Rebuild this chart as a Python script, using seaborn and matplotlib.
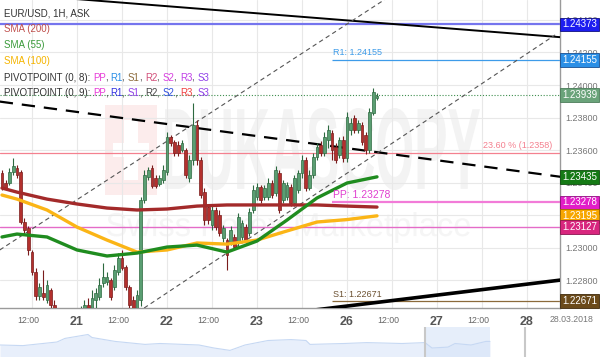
import matplotlib
matplotlib.use("Agg")
import matplotlib.pyplot as plt
import seaborn as sns
import pandas as pd
import numpy as np
from matplotlib.textpath import TextPath
from matplotlib.patches import PathPatch, Rectangle
from matplotlib.font_manager import FontProperties
import matplotlib.transforms as mtrans

# ---------------- data ----------------
hours = list(range(4, 105))  # hour index from 20.03 00:00 (weekend removed)
opens = [1.23458, 1.23397, 1.23397, 1.23465, 1.23489, 1.23465, 1.23157, 1.23120, 1.22972, 1.22849,
         1.22701, 1.22720, 1.22677, 1.22738, 1.22646, 1.22554, 1.22492, 1.22517, 1.22480, 1.22523,
         1.22541, 1.22566, 1.22603, 1.22646, 1.22628, 1.22677, 1.22695, 1.22781, 1.22788, 1.22800,
         1.22757, 1.22849, 1.22935, 1.22880, 1.22757, 1.22677, 1.22615, 1.22677, 1.23292, 1.23434,
         1.23489, 1.23428, 1.23391, 1.23415, 1.23465, 1.23680, 1.23649, 1.23631, 1.23600, 1.23600,
         1.23428, 1.23538, 1.23754, 1.23538, 1.23341, 1.23249, 1.23138, 1.23231, 1.23200, 1.23058,
         1.23046, 1.23034, 1.23065, 1.23028, 1.23065, 1.23126, 1.23089, 1.23231, 1.23311, 1.23372,
         1.23311, 1.23311, 1.23397, 1.23335, 1.23458, 1.23292, 1.23311, 1.23372, 1.23274, 1.23354,
         1.23458, 1.23538, 1.23366, 1.23446, 1.23557, 1.23631, 1.23581, 1.23661, 1.23705, 1.23618,
         1.23569, 1.23661, 1.23551, 1.23723, 1.23797, 1.23723, 1.23754, 1.23692, 1.23600, 1.23828,
         1.23920]
highs = [1.23477, 1.23415, 1.23489, 1.23551, 1.23508, 1.23477, 1.23181, 1.23132, 1.22985, 1.22874,
         1.22781, 1.22861, 1.22800, 1.22751, 1.22677, 1.22578, 1.22541, 1.22554, 1.22541, 1.22566,
         1.22591, 1.22640, 1.22677, 1.22689, 1.22738, 1.22751, 1.22812, 1.22905, 1.22849, 1.22812,
         1.22892, 1.22966, 1.22985, 1.22892, 1.22769, 1.22701, 1.22738, 1.23311, 1.23477, 1.23495,
         1.23508, 1.23446, 1.23446, 1.23508, 1.23711, 1.23692, 1.23661, 1.23655, 1.23661, 1.23612,
         1.23569, 1.23889, 1.23785, 1.23557, 1.23366, 1.23268, 1.23255, 1.23249, 1.23231, 1.23138,
         1.23058, 1.23132, 1.23083, 1.23212, 1.23169, 1.23145, 1.23243, 1.23385, 1.23397, 1.23385,
         1.23385, 1.23428, 1.23415, 1.23501, 1.23477, 1.23415, 1.23403, 1.23391, 1.23446, 1.23477,
         1.23569, 1.23557, 1.23477, 1.23581, 1.23643, 1.23655, 1.23711, 1.23754, 1.23723, 1.23643,
         1.23680, 1.23686, 1.23834, 1.23797, 1.23815, 1.23785, 1.23772, 1.23711, 1.23858, 1.23981,
         1.23951]
lows = [1.23354, 1.23354, 1.23385, 1.23446, 1.23428, 1.23145, 1.23083, 1.22954, 1.22831, 1.22677,
        1.22677, 1.22677, 1.22658, 1.22615, 1.22523, 1.22455, 1.22468, 1.22443, 1.22455, 1.22492,
        1.22517, 1.22541, 1.22578, 1.22603, 1.22603, 1.22615, 1.22677, 1.22757, 1.22769, 1.22677,
        1.22738, 1.22831, 1.22861, 1.22738, 1.22628, 1.22591, 1.22591, 1.22640, 1.23274, 1.23415,
        1.23366, 1.23366, 1.23378, 1.23397, 1.23446, 1.23625, 1.23563, 1.23563, 1.23588, 1.23428,
        1.23403, 1.23508, 1.23508, 1.23305, 1.23138, 1.23145, 1.23108, 1.23108, 1.23071, 1.23034,
        1.22861, 1.23015, 1.22985, 1.23009, 1.23046, 1.23028, 1.23071, 1.23212, 1.23292, 1.23274,
        1.23292, 1.23292, 1.23305, 1.23317, 1.23212, 1.23274, 1.23292, 1.23255, 1.23255, 1.23335,
        1.23428, 1.23348, 1.23354, 1.23428, 1.23538, 1.23563, 1.23563, 1.23612, 1.23538, 1.23520,
        1.23551, 1.23526, 1.23526, 1.23692, 1.23705, 1.23705, 1.23631, 1.23575, 1.23581, 1.23815,
        1.23908]
closes = [1.23372, 1.23366, 1.23465, 1.23501, 1.23446, 1.23157, 1.23108, 1.22985, 1.22849, 1.22701,
          1.22757, 1.22695, 1.22769, 1.22646, 1.22554, 1.22492, 1.22517, 1.22480, 1.22523, 1.22541,
          1.22566, 1.22603, 1.22646, 1.22628, 1.22689, 1.22720, 1.22769, 1.22818, 1.22818, 1.22695,
          1.22861, 1.22935, 1.22874, 1.22757, 1.22646, 1.22615, 1.22708, 1.23292, 1.23446, 1.23477,
          1.23378, 1.23378, 1.23428, 1.23477, 1.23680, 1.23643, 1.23581, 1.23581, 1.23643, 1.23446,
          1.23538, 1.23754, 1.23538, 1.23323, 1.23169, 1.23169, 1.23231, 1.23126, 1.23089, 1.23120,
          1.22954, 1.23108, 1.23003, 1.23188, 1.23151, 1.23046, 1.23218, 1.23354, 1.23372, 1.23292,
          1.23366, 1.23397, 1.23323, 1.23477, 1.23231, 1.23397, 1.23385, 1.23274, 1.23428, 1.23458,
          1.23538, 1.23366, 1.23446, 1.23557, 1.23618, 1.23581, 1.23680, 1.23723, 1.23600, 1.23538,
          1.23661, 1.23551, 1.23803, 1.23766, 1.23723, 1.23766, 1.23649, 1.23600, 1.23834, 1.23957,
          1.23932]

sma_hours = [4, 8, 16, 24, 32, 40, 48, 56, 64, 72, 80, 88, 96, 104]
sma200 = [1.23366, 1.23341, 1.23298, 1.23268, 1.23243, 1.23231, 1.23237, 1.23255, 1.23262, 1.23262,
          1.23262, 1.23262, 1.23255, 1.23249]
sma100 = [1.23323, 1.23298, 1.23231, 1.23126, 1.23046, 1.22972, 1.22985, 1.23028, 1.23021, 1.23046,
          1.23102, 1.23157, 1.23172, 1.23195]
sma55 = [1.23065, 1.23083, 1.23065, 1.22985, 1.22948, 1.22966, 1.23003, 1.23015, 1.22972, 1.23040,
         1.23169, 1.23305, 1.23397, 1.23435]

# trend / channel lines (hour, price anchors)
top_line_h, top_line_p = [3.4, 153.0], [1.24566, 1.24294]
dash_line_h, dash_line_p = [3.4, 153.0], [1.23898, 1.23435]
low_thick_h, low_thick_p = [80.0, 153.0], [1.22595, 1.22800]
chan_up_h, chan_up_p = [3.4, 115.0], [1.22985, 1.24660]
chan_lo_h, chan_lo_p = [35.0, 151.5], [1.22522, 1.24308]

fib_level = 1.2358
level_blue = 1.24373
last_price = 1.23939
level_s = 1.23127
pivot_start = 92
R1, PP, S1 = 1.24155, 1.23278, 1.22671

tick_pos = [12, 24, 36, 48, 60, 72, 84, 96, 108, 120, 132, 144]
tick_lab = ['12:00', '21', '12:00', '22', '12:00', '23', '12:00', '26', '12:00', '27', '12:00', '28']
price_ticks = [1.228, 1.230, 1.232, 1.234, 1.236, 1.238, 1.240, 1.242, 1.244]

nav_x = [0, 23, 57, 65, 88, 92, 115, 145, 160, 199, 214, 230, 245, 268, 291, 306, 310, 344, 367,
         402, 425, 432, 448, 455, 471, 486, 490]
nav_v = [0.40, 0.38, 0.50, 0.62, 0.75, 0.65, 0.52, 0.42, 0.45, 0.40, 0.30, 0.22, 0.40, 0.55, 0.58,
         0.55, 0.42, 0.45, 0.48, 0.45, 0.48, 0.30, 0.33, 0.45, 0.40, 0.52, 0.52]

# ---------------- figure ----------------
W, H = 600, 357
sns.set_theme(style="white")
plt.rcParams['font.family'] = ['Liberation Sans', 'DejaVu Sans']

fig = plt.figure(figsize=(W / 100, H / 100), dpi=100)
fig.patch.set_facecolor('white')
ax = fig.add_axes([0, 1 - 308 / H, 560 / W, 308 / H])
ax.set_xlim(3.47, 152.8)
ax.set_ylim(1.22628, 1.24523)

# watermark
def path_patch(text, box, color, weight='bold'):
    fp = FontProperties(family='Liberation Sans', weight=weight)
    tp = TextPath((0, 0), text, size=1, prop=fp)
    ext = tp.get_extents()
    x0, y0, x1, y1 = box  # pixel box (left, top, right, bottom) in axes pixels
    fx0, fx1 = x0 / 560, x1 / 560
    fy0, fy1 = 1 - y1 / 308, 1 - y0 / 308
    tr = (mtrans.Affine2D().translate(-ext.x0, -ext.y0)
          .scale((fx1 - fx0) / ext.width, (fy1 - fy0) / ext.height)
          .translate(fx0, fy0) + ax.transAxes)
    ax.add_patch(PathPatch(tp, transform=tr, fc=color, ec='none', zorder=0.3))

ax.add_patch(Rectangle((105 / 560, 1 - 195 / 308), 52 / 560, 90 / 308, transform=ax.transAxes,
                       fc='#fcecec', ec='none', zorder=0.3))
ax.add_patch(Rectangle((124 / 560, 1 - 180 / 308), 14 / 560, 60 / 308, transform=ax.transAxes,
                       fc='white', ec='none', zorder=0.31))
ax.add_patch(Rectangle((113 / 560, 1 - 157 / 308), 36 / 560, 14 / 308, transform=ax.transAxes,
                       fc='white', ec='none', zorder=0.31))
path_patch('DUKASCOPY', (165, 108, 480, 190), '#f3f3f3')
path_patch('Swiss Forex Marketplace', (107, 212, 470, 243), '#f5f5f5', weight='normal')

# grid
ax.set_xticks(tick_pos)
ax.set_yticks(price_ticks)
ax.grid(True, color='#e8e8e8', lw=0.8, zorder=0.2)
ax.set_axisbelow(True)

# horizontal levels
ax.axhline(level_blue, color='#7575ee', lw=1.6, zorder=1)
ax.axhline(last_price, color='#3f8f4f', lw=0.8, ls=(0, (1, 1.6)), zorder=1)
ax.axhline(fib_level, color='#f4808f', lw=0.9, zorder=1)
ax.axhline(level_s, color='#e46cc8', lw=1.0, zorder=1)
ax.hlines(R1, pivot_start, 152.8, color='#3d9be9', lw=0.9, zorder=1)
ax.hlines(PP, pivot_start, 152.8, color='#f27bd8', lw=1.6, zorder=1)
ax.hlines(S1, pivot_start, 152.8, color='#8b6a3a', lw=0.9, zorder=1)

# trend lines
ax.plot(top_line_h, top_line_p, color='black', lw=1.4, zorder=3)
ax.plot(dash_line_h, dash_line_p, color='black', lw=1.6, ls=(0, (6, 4)), zorder=3)
ax.plot(low_thick_h, low_thick_p, color='black', lw=2.6, zorder=3)
ax.plot(chan_up_h, chan_up_p, color='#555555', lw=0.8, ls=(0, (4, 3)), zorder=3)
ax.plot(chan_lo_h, chan_lo_p, color='#555555', lw=0.8, ls=(0, (4, 3)), zorder=3)

# candles
df = pd.DataFrame({'hour': hours, 'open': opens, 'high': highs, 'low': lows, 'close': closes})
up = df['close'] >= df['open']
body_c = np.where(up, '#5a9e72', '#b3302d')
edge_c = np.where(up, '#2d6a40', '#7a1c1c')
ax.vlines(df['hour'], df['low'], df['high'], colors=edge_c, lw=0.8, zorder=4)
bh = (df['close'] - df['open']).abs().clip(lower=0.000025)
ax.bar(df['hour'], bh, bottom=df[['open', 'close']].min(axis=1), width=0.72,
       color=body_c, edgecolor=edge_c, linewidth=0.5, zorder=5)

# SMAs via seaborn
sma_df = pd.DataFrame({
    'hour': sma_hours * 3,
    'value': sma200 + sma100 + sma55,
    'name': ['SMA200'] * len(sma_hours) + ['SMA100'] * len(sma_hours) + ['SMA55'] * len(sma_hours),
})
sns.lineplot(data=sma_df, x='hour', y='value', hue='name',
             palette={'SMA200': '#a32a2a', 'SMA100': '#fbb516', 'SMA55': '#1f8c1f'},
             lw=2.4, legend=False, ax=ax, zorder=6)

# labels on chart
ax.annotate(f'R1: {R1:.5f}', xy=(pivot_start, R1), xytext=(1, 2), textcoords='offset points',
            fontsize=6.5, color='#3d9be9', ha='left', va='bottom', zorder=7)
ax.annotate(f'PP: {PP:.5f}', xy=(pivot_start, PP), xytext=(1, 2), textcoords='offset points',
            fontsize=7.5, color='#e040d0', ha='left', va='bottom', zorder=7)
ax.annotate(f'S1: {S1:.5f}', xy=(pivot_start, S1), xytext=(1, 1.5), textcoords='offset points',
            fontsize=6.5, color='#6b5030', ha='left', va='bottom', zorder=7)
ax.annotate(f'23.60 % ({fib_level})', xy=(150.8, fib_level), xytext=(0, 2), textcoords='offset points',
            fontsize=6.5, color='#f4808f', ha='right', va='bottom', zorder=7)

# axes styling
for s in ['left', 'top']:
    ax.spines[s].set_visible(False)
for s in ['right', 'bottom']:
    ax.spines[s].set_color('#9a9a9a')
    ax.spines[s].set_linewidth(1.0)
ax.set_xlabel('')
ax.set_ylabel('')
ax.yaxis.tick_right()
ax.set_yticklabels([f'{v:.5f}' for v in price_ticks])
ax.tick_params(axis='y', labelsize=6.5, labelcolor='#777777', length=0, pad=4)
ax.set_xticklabels(tick_lab)
ax.tick_params(axis='x', length=0, pad=6, labelcolor='#666666')
shift = mtrans.ScaledTranslation(-4 / 100, 0, fig.dpi_scale_trans)
for t in ax.get_xticklabels():
    if ':' in t.get_text():
        t.set_fontsize(6.3)
        t.set_transform(t.get_transform() + shift)
    else:
        t.set_fontsize(9)
        t.set_fontweight('bold')
        t.set_color('#555555')

# right price boxes
def price_box(p, bg, ec, z=10):
    ax.annotate(f'{p:.5f}', xy=(1.0, p), xycoords=('axes fraction', 'data'),
                xytext=(1.5, 0), textcoords='offset points', ha='left', va='center',
                fontsize=7, color='white', annotation_clip=False, zorder=z,
                bbox=dict(boxstyle='square,pad=0.18', fc=bg, ec=ec, lw=0.6))

price_box(level_blue, '#1d1df0', '#101080')
price_box(R1, '#2b8fe6', '#1a4f90')
price_box(last_price, '#6aa37a', '#4c7d5a')
price_box(dash_line_p[1], '#157a15', '#0d4d0d')
price_box(sma200[-1], '#8e2020', '#5a1010', z=10)
price_box(PP, '#e21ec8', '#901080', z=11)
price_box(sma100[-1], '#f7a600', '#a06c00', z=11)
price_box(level_s, '#d8267e', '#8a1450', z=11)
price_box(S1, '#6b4a1a', '#3f2a0c', z=11)

fig.text(572 / W, 1 - 320 / H, '28.03.2018', fontsize=6.3, color='#777777', ha='center', va='center')

# legend texts
renderer = fig.canvas.get_renderer()

def text_w(s, size):
    t = fig.text(0, 0, s + '|', fontsize=size)
    w = t.get_window_extent(renderer).width
    t.set_text('|')
    w -= t.get_window_extent(renderer).width
    t.remove()
    return w

def multi(xpx, ypx, parts, size=7.0):
    prefix = ''
    for s, c in parts:
        x = xpx + text_w(prefix, size) if prefix else xpx
        fig.text(x / W, 1 - ypx / H, s, color=c, fontsize=size, ha='left', va='center', zorder=20)
        prefix += s

LS = 7.0
fig.text(4 / W, 1 - 13 / H, 'EUR/USD, 1H, ASK', fontsize=LS, color='#333333', va='center', zorder=20)
fig.text(4 / W, 1 - 29 / H, 'SMA (200)', fontsize=LS, color='#c0504d', va='center', zorder=20)
fig.text(4 / W, 1 - 45 / H, 'SMA (55)', fontsize=LS, color='#3a9a3a', va='center', zorder=20)
fig.text(4 / W, 1 - 61 / H, 'SMA (100)', fontsize=LS, color='#f5b400', va='center', zorder=20)
dk = '#333333'
multi(4, 78, [('PIVOTPOINT (0, 8): ', dk), ('PP', '#e83cd8'), (', ', dk), ('R1', '#2b8fe6'), (', ', dk),
              ('S1', '#8b6a3a'), (', ', dk), ('R2', '#d2507a'), (', ', dk), ('S2', '#d840e0'), (', ', dk),
              ('R3', '#c040e8'), (', ', dk), ('S3', '#9040e8')], LS)
multi(4, 93, [('PIVOTPOINT (0, 9): ', dk), ('PP', '#e83cd8'), (', ', dk), ('R1', '#3030e0'), (', ', dk),
              ('S1', '#9040e8'), (', ', dk), ('R2', '#444444'), (', ', dk), ('S2', '#3050e0'), (', ', dk),
              ('R3', '#f04040'), (', ', dk), ('S3', '#9040e8')], LS)

# navigator
nav = fig.add_axes([0, 0, 1, 30 / H])
nav.set_xlim(0, 600)
nav.set_ylim(0, 1)
nav.fill_between(nav_x, 0, nav_v, color='#e8effb', lw=0)
nav.plot(nav_x, nav_v, color='#c6d8f3', lw=0.8)
nav.axvspan(425, 490, color='#d6e4f8', alpha=0.6, lw=0)
nav.axvline(425, color='#c8c8c8', lw=1.5)
nav.axvline(525, color='#c8c8c8', lw=1.5)
nav.axis('off')

fig.savefig('out.png', dpi=100, facecolor='white')
